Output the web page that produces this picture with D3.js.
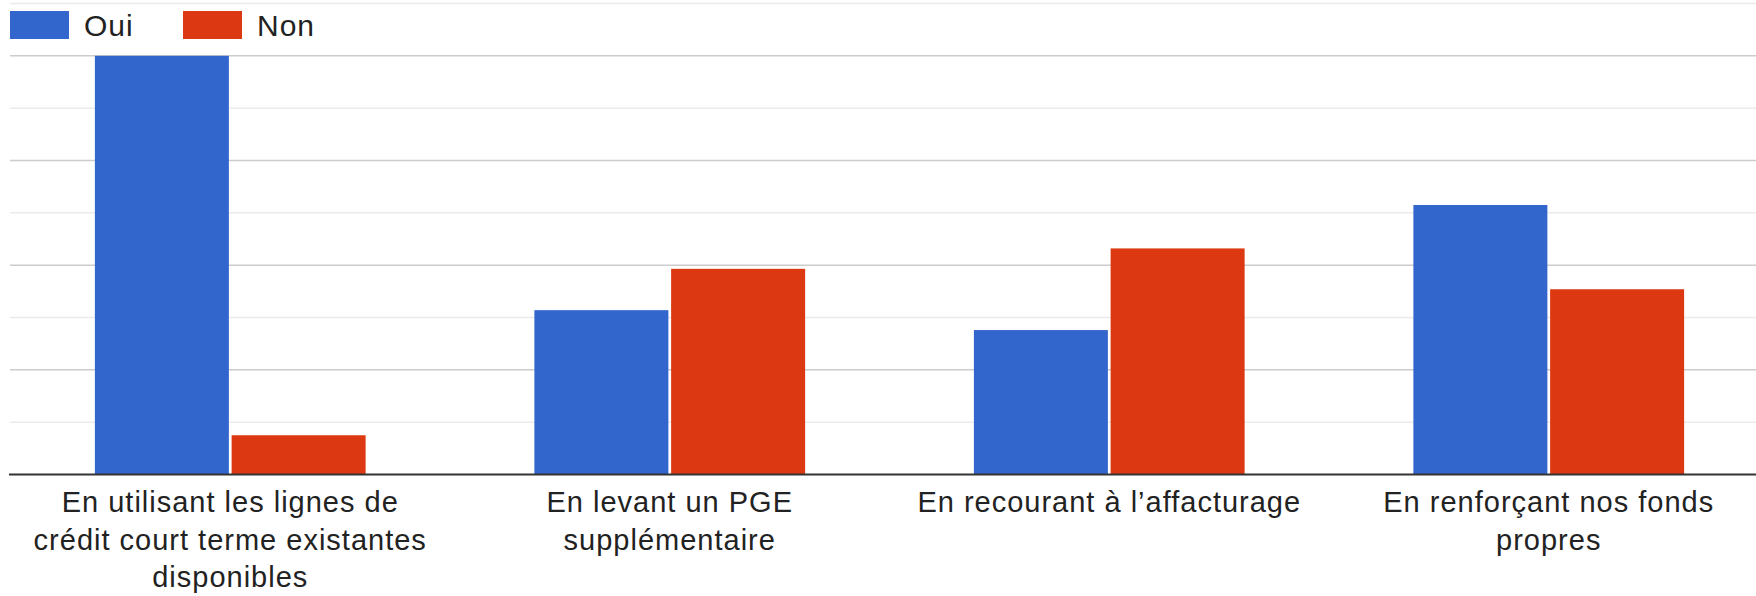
<!DOCTYPE html>
<html>
<head>
<meta charset="utf-8">
<script src="https://cdn.jsdelivr.net/npm/d3@7"></script>
<style>
  html, body { margin: 0; padding: 0; background: #fff; }
  svg { display: block; }
  text { font-family: "Liberation Sans", Arial, Helvetica, sans-serif; fill: #222; }
</style>
</head>
<body>
<svg id="chart" width="1756" height="596"></svg>
<script>
// data
var categories = [
    ["En utilisant les lignes de", "crédit court terme existantes", "disponibles"],
    ["En levant un PGE", "supplémentaire"],
    ["En recourant à l\u2019affacturage"],
    ["En renforçant nos fonds", "propres"]
];
var seriesNames = ["Oui", "Non"];
var seriesColors = ["#3366cc", "#dc3912"];
var oui = [80, 31.4, 27.6, 51.5];
var non = [7.5, 39.3, 43.2, 35.4];
var majorTicks = [20, 40, 60, 80];
var minorTicks = [10, 30, 50, 70, 90];

var svg = d3.select("#chart");
var W = 1756;
var base = 474.5;

var x0 = d3.scaleBand()
    .domain(d3.range(categories.length))
    .range([10.5, 1768.5])
    .paddingInner(0.384)
    .paddingOuter(0.192);

var x1 = d3.scaleBand()
    .domain(d3.range(seriesNames.length))
    .range([0, x0.bandwidth()])
    .paddingInner(0.02);

var y = d3.scaleLinear().domain([0, 90]).range([base, 3.5]);

// grid lines, minor then major
svg.append("g").selectAll("line").data(minorTicks).join("line")
    .attr("x1", 10).attr("x2", W)
    .attr("y1", function (d) { return y(d); })
    .attr("y2", function (d) { return y(d); })
    .attr("stroke", "#ebebeb").attr("stroke-width", 1.5);

svg.append("g").selectAll("line").data(majorTicks).join("line")
    .attr("x1", 10).attr("x2", W)
    .attr("y1", function (d) { return y(d); })
    .attr("y2", function (d) { return y(d); })
    .attr("stroke", "#cccccc").attr("stroke-width", 1.5);

// bars
var rows = categories.map(function (c, i) { return [oui[i], non[i]]; });
var groups = svg.append("g").selectAll("g").data(rows).join("g")
    .attr("transform", function (d, i) { return "translate(" + x0(i) + ",0)"; });

groups.selectAll("rect").data(function (d) { return d; }).join("rect")
    .attr("x", function (d, j) { return x1(j); })
    .attr("width", x1.bandwidth())
    .attr("y", function (d) { return y(d); })
    .attr("height", function (d) { return base - y(d); })
    .attr("fill", function (d, j) { return seriesColors[j]; });

// baseline
svg.append("line")
    .attr("x1", 9).attr("x2", W)
    .attr("y1", base).attr("y2", base)
    .attr("stroke", "#333").attr("stroke-width", 1.8);

// category labels
var labels = svg.append("g").selectAll("text").data(categories).join("text")
    .attr("text-anchor", "middle")
    .attr("font-size", 29)
    .attr("letter-spacing", 1)
    .attr("x", function (d, i) { return x0(i) + x0.bandwidth() / 2; })
    .attr("y", 511.7);

labels.selectAll("tspan").data(function (d) { return d; }).join("tspan")
    .attr("x", function () { return d3.select(this.parentNode).attr("x"); })
    .attr("dy", function (d, k) { return k === 0 ? 0 : 37.8; })
    .text(function (d) { return d; });

// legend
var legend = svg.append("g").selectAll("g").data(seriesNames).join("g")
    .attr("transform", function (d, i) { return "translate(" + (10 + i * 173) + ",0)"; });

legend.append("rect")
    .attr("x", 0).attr("y", 11)
    .attr("width", 59).attr("height", 28)
    .attr("fill", function (d, i) { return seriesColors[i]; });

legend.append("text")
    .attr("x", 74).attr("y", 36)
    .attr("font-size", 30)
    .attr("letter-spacing", 1)
    .text(function (d) { return d; });
</script>
</body>
</html>
